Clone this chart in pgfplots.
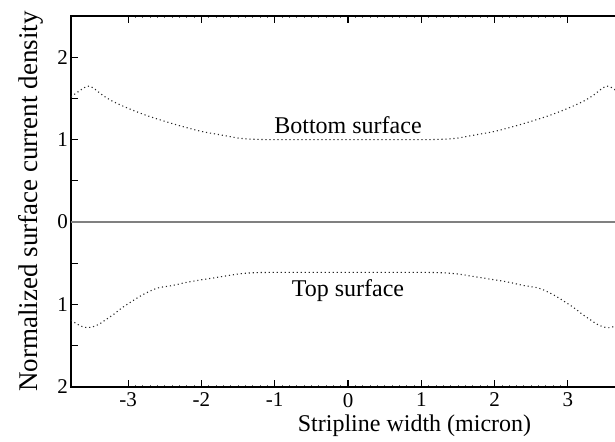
\documentclass[border=0pt]{standalone}
\usepackage{fontspec}
\setmainfont{Liberation Serif}
\usepackage{pgfplots}
\pgfplotsset{compat=1.18}

\begin{document}
\begin{tikzpicture}
\begin{axis}[
  scale only axis,
  width=277pt, height=185.5pt,
  xmin=-3.78, xmax=3.78,
  ymin=-2, ymax=2.5,
  axis line style={line width=0.6pt},
  tick align=inside,
  major tick length=3.3pt,
  minor tick length=1.1pt,
  tick style={black, line width=0.6pt},
  minor tick style={black!60, line width=0.4pt},
  xtick={-3,-2,-1,0,1,2,3},
  minor x tick num=9,
  ytick={-2,-1.5,-1,-0.5,0,0.5,1,1.5,2},
  yticklabels={2,,1,,0,,1,,2},
  /pgf/number format/assume math mode=true,
  ticklabel style={font=\fontsize{10.5}{12}\selectfont},
  xticklabel style={yshift=0.5pt},
  yticklabel style={xshift=2pt},
  xlabel={Stripline width (micron)},
  ylabel={Normalized surface current density},
  xlabel style={at={([yshift=-22.3pt]axis description cs:0.62,0)}, anchor=base, font=\fontsize{12}{14}\selectfont},
  ylabel style={at={([xshift=-16.5pt]axis description cs:0,0.5)}, rotate=0, anchor=base, font=\fontsize{13.5}{15}\selectfont},
]
% zero line
\addplot[gray, line width=1pt] coordinates {(-3.78,0) (3.78,0)};
% bottom surface
\addplot[black!85, line width=0.55pt, dash pattern=on 0.55pt off 1.45pt, smooth] coordinates {
(-3.78,1.52) (-3.7,1.57) (-3.6,1.63) (-3.53,1.65) (-3.45,1.61) (-3.35,1.54)
(-3.2,1.46) (-3.0,1.38) (-2.8,1.31) (-2.6,1.25) (-2.3,1.17) (-2.0,1.10)
(-1.75,1.06) (-1.5,1.02) (-1.3,1.005) (-1.0,1.0) (-0.5,1.0) (0,1.0)
(0.5,1.0) (1.0,1.0) (1.3,1.005) (1.5,1.02) (1.75,1.06) (2.0,1.10)
(2.3,1.17) (2.6,1.25) (2.8,1.31) (3.0,1.38) (3.2,1.46) (3.35,1.54)
(3.45,1.61) (3.53,1.65) (3.6,1.63) (3.7,1.57) (3.78,1.52)
};
% top surface
\addplot[black!85, line width=0.55pt, dash pattern=on 0.55pt off 1.45pt, smooth] coordinates {
(-3.78,-1.19) (-3.65,-1.26) (-3.56,-1.28) (-3.5,-1.275) (-3.4,-1.24) (-3.3,-1.18)
(-3.2,-1.12) (-3.1,-1.05) (-3.0,-0.99) (-2.8,-0.88) (-2.6,-0.80) (-2.4,-0.77)
(-2.2,-0.73) (-2.0,-0.70) (-1.75,-0.665) (-1.5,-0.63) (-1.3,-0.615) (-1.0,-0.61)
(0,-0.61) (1.0,-0.61) (1.3,-0.615) (1.5,-0.63) (1.75,-0.665) (2.0,-0.70)
(2.2,-0.73) (2.4,-0.77) (2.6,-0.80) (2.8,-0.88) (3.0,-0.99) (3.1,-1.05)
(3.2,-1.12) (3.3,-1.18) (3.4,-1.24) (3.5,-1.275) (3.56,-1.28) (3.65,-1.26) (3.78,-1.19)
};
\node[font=\fontsize{12}{14}\selectfont] at (axis cs:0,1.17) {Bottom surface};
\node[font=\fontsize{12}{14}\selectfont] at (axis cs:0,-0.83) {Top surface};
\end{axis}
% page crops the right edge of the frame, as in the reference
\pgfresetboundingbox
\path ([xshift=-35.5pt,yshift=-27.5pt]current axis.south west)
  rectangle ([xshift=272pt,yshift=8pt]current axis.north west);
\end{tikzpicture}
\end{document}
